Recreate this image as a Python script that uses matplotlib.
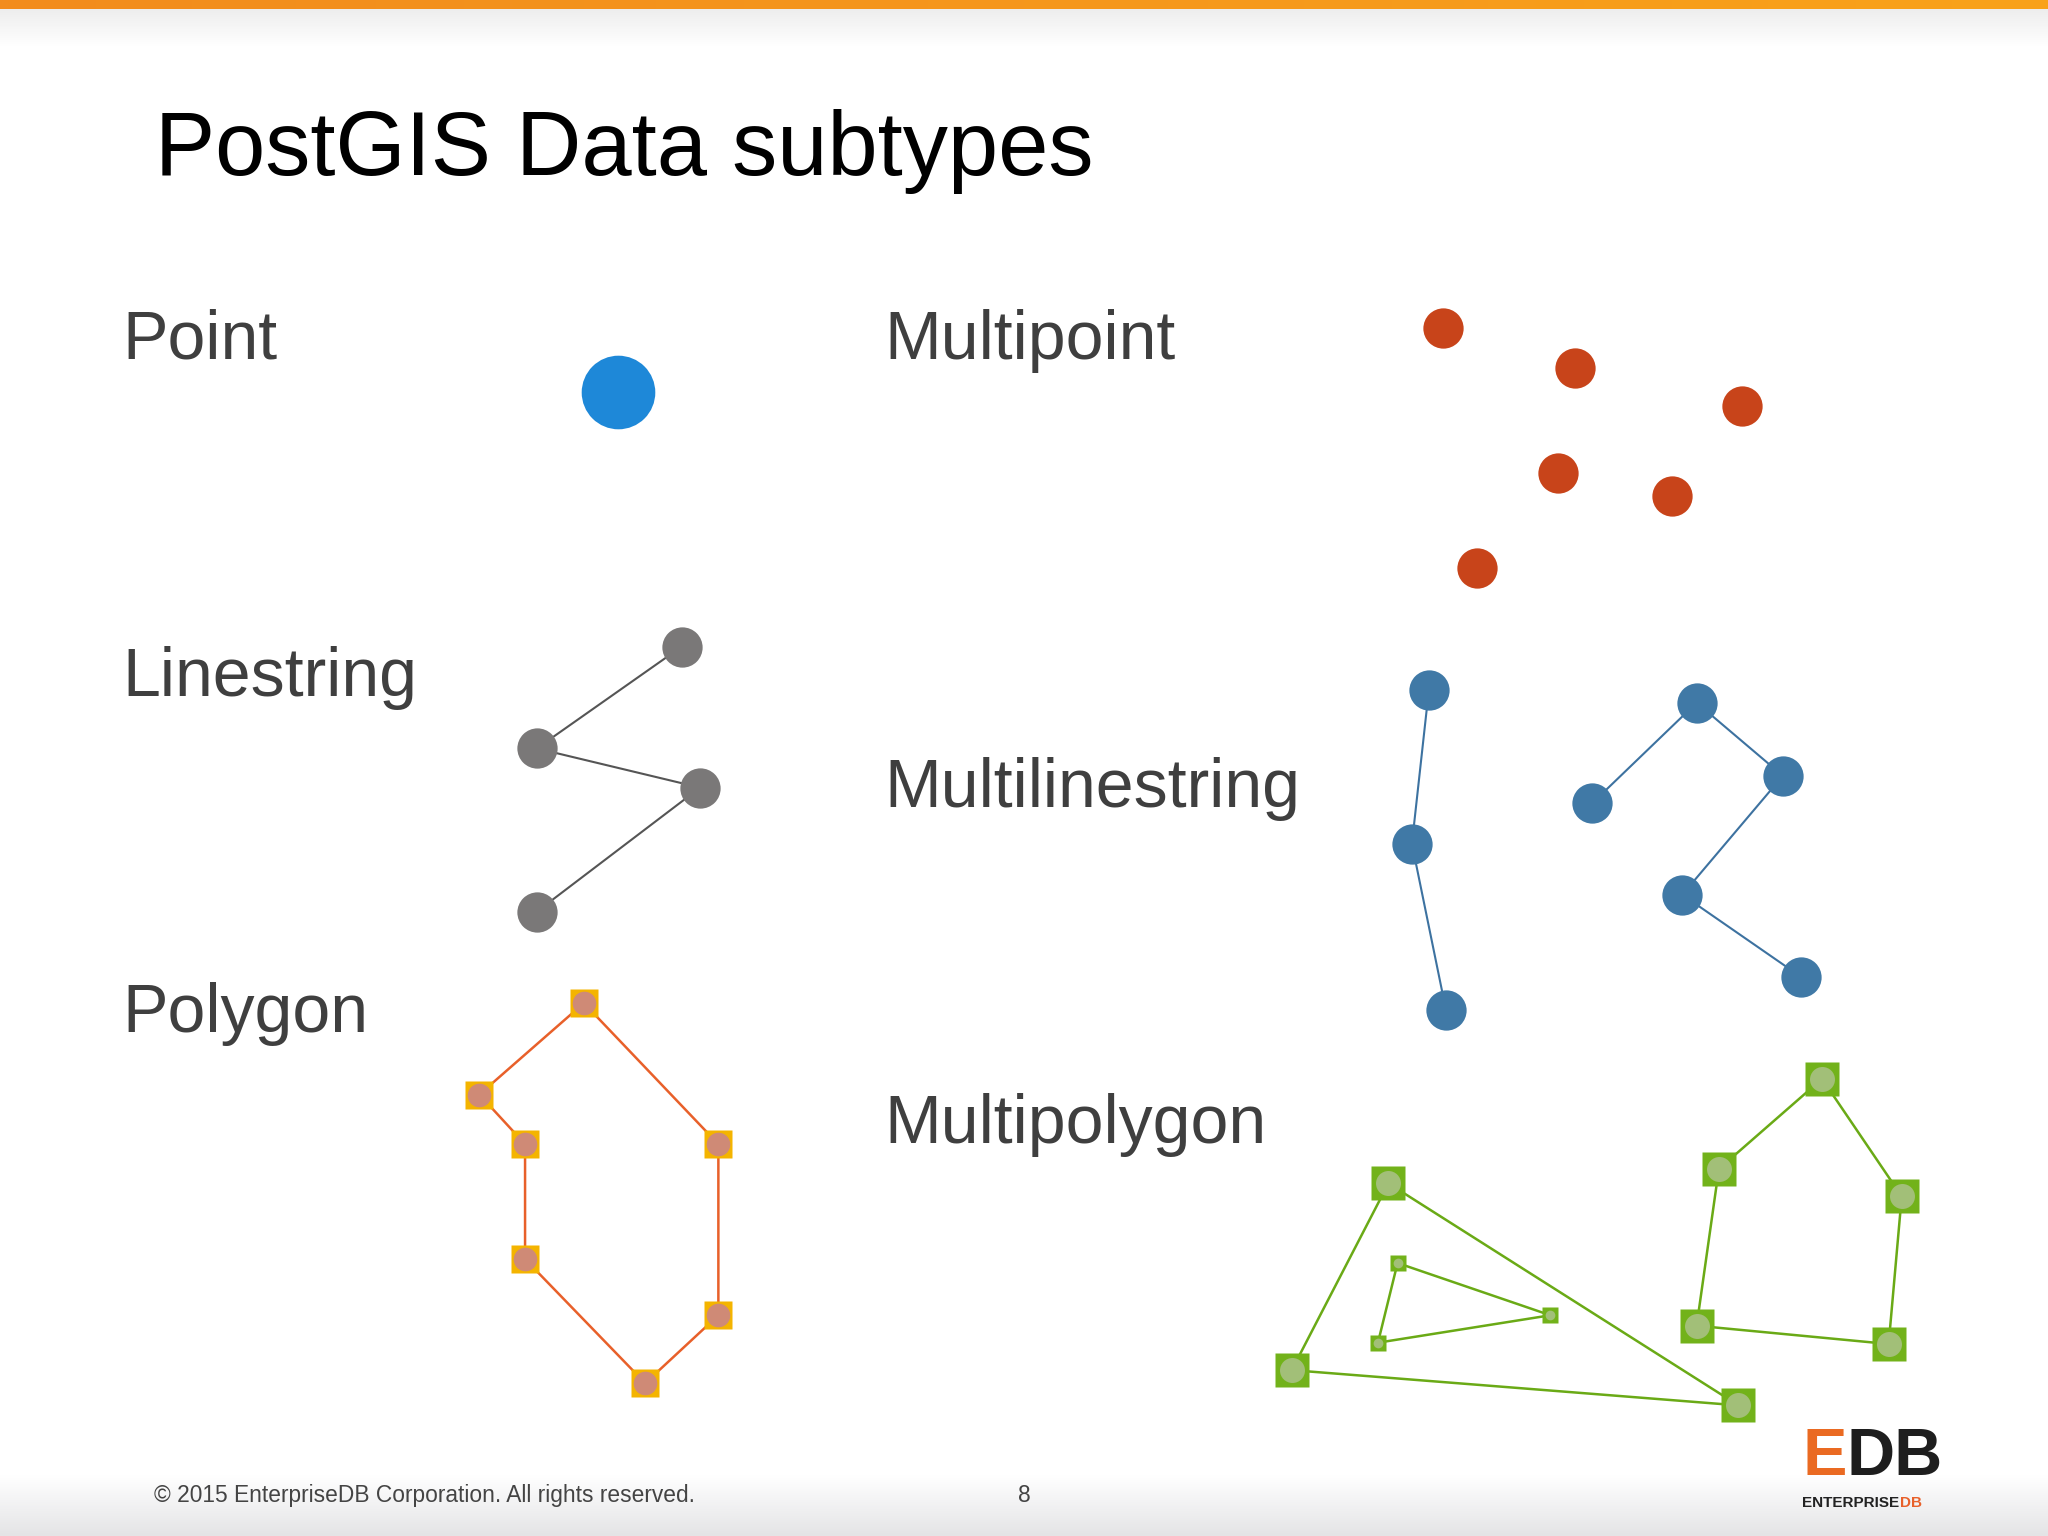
import matplotlib

matplotlib.use("Agg")
import matplotlib.pyplot as plt
from matplotlib.colors import LinearSegmentedColormap
import numpy as np

plt.rcParams["font.family"] = ["Liberation Sans", "DejaVu Sans"]

# coordinates in slide pixels (1568 x 1176 layout)
point_xy = [(473, 300)]
multipoint_xy = [(1105, 251), (1206, 282), (1334, 311), (1193, 362), (1280, 380), (1131, 435)]
linestring_xy = [(522, 495), (411, 573), (536, 603), (411, 698)]
multiline_a = [(1094, 528), (1081, 646), (1107, 773)]
multiline_b = [(1219, 615), (1299, 538), (1365, 594), (1288, 685), (1379, 748)]
polygon_xy = [(447, 768), (550, 876), (550, 1007), (494, 1059), (402, 964), (402, 876), (367, 838)]
mpoly_outer = [(1063, 906), (1331, 1076), (989, 1049)]
mpoly_hole = [(1070, 967), (1187, 1007), (1055, 1028)]
mpoly_right = [(1395, 826), (1456, 916), (1446, 1029), (1299, 1015), (1316, 895)]

labels_left = [("Point", 261), ("Linestring", 519), ("Polygon", 776)]
labels_right = [("Multipoint", 261), ("Multilinestring", 604), ("Multipolygon", 861)]

fig = plt.figure(figsize=(20.48, 15.36), dpi=100)
ax = fig.add_axes([0, 0, 1, 1])
ax.set_xlim(0, 1568)
ax.set_ylim(1176, 0)
ax.axis("off")

# orange bar on top and grey fade at bottom
ax.imshow(np.linspace(0, 1, 256)[None, :], extent=(0, 1568, 7, 0),
          cmap=LinearSegmentedColormap.from_list("o", ["#f28c1e", "#f9a21a"]), aspect="auto")
ax.imshow(np.linspace(0, 1, 64)[:, None], extent=(0, 1568, 35, 7),
          cmap=LinearSegmentedColormap.from_list("g", ["#ededed", "#ffffff"]), aspect="auto")
ax.imshow(np.linspace(0, 1, 64)[:, None], extent=(0, 1568, 1176, 1130),
          cmap=LinearSegmentedColormap.from_list("b", ["#ffffff", "#e4e4e6"]), aspect="auto")

ax.text(119, 116, "PostGIS Data subtypes", fontsize=65, va="center", color="black")
for name, y in labels_left:
    ax.text(94, y, name, fontsize=49, va="center", color="#3f3f3f")
for name, y in labels_right:
    ax.text(677, y, name, fontsize=49, va="center", color="#3f3f3f")

ax.text(118, 1145, "\u00a9 2015 EnterpriseDB Corporation. All rights reserved.", fontsize=16.4,
        va="center", color="#444444")
ax.text(784, 1145, "8", fontsize=16.4, va="center", ha="center", color="#444444")

# point
x, y = zip(*point_xy)
ax.plot(x, y, "o", ms=53, color="#1e88d8", mec="none")

# multipoint
x, y = zip(*multipoint_xy)
ax.plot(x, y, "o", ms=29, color="#c8441a", mec="none")

# linestring
x, y = zip(*linestring_xy)
ax.plot(x, y, "-", color="#555555", lw=1.5)
ax.plot(x, y, "o", ms=29, color="#7a7878", mec="none")

# multilinestring
for part in (multiline_a, multiline_b):
    x, y = zip(*part)
    ax.plot(x, y, "-", color="#3d72a0", lw=1.5)
    ax.plot(x, y, "o", ms=29, color="#4079a6", mec="none")

# polygon
x, y = zip(*(polygon_xy + polygon_xy[:1]))
ax.plot(x, y, "-", color="#e8602a", lw=1.8)
x, y = zip(*polygon_xy)
ax.plot(x, y, "s", ms=20, color="#f4b400", mec="none")
ax.plot(x, y, "o", ms=17, color="#cf8a76", mec="none")

# multipolygon
for ring, big in ((mpoly_outer, True), (mpoly_hole, False), (mpoly_right, True)):
    x, y = zip(*(ring + ring[:1]))
    ax.plot(x, y, "-", color="#6aaa16", lw=1.8)
    x, y = zip(*ring)
    ax.plot(x, y, "s", ms=24 if big else 11, color="#72b21a", mec="none")
    ax.plot(x, y, "o", ms=18 if big else 7, color="#a2bf78", mec="none")

# logo
e = ax.text(1380, 1129, "E", fontsize=48, fontweight="bold", color="#ea6a22", va="baseline")
ax.annotate("DB", xy=(1, 0), xycoords=e, fontsize=48, fontweight="bold", color="#1e1e1e",
            va="bottom", ha="left")
ent = ax.text(1380, 1154, "ENTERPRISE", fontsize=11, fontweight="bold", color="#222222",
              va="baseline")
ax.annotate("DB", xy=(1, 0), xycoords=ent, fontsize=11, fontweight="bold", color="#e8602a",
            va="bottom", ha="left")

fig.savefig("out.png", dpi=100)
